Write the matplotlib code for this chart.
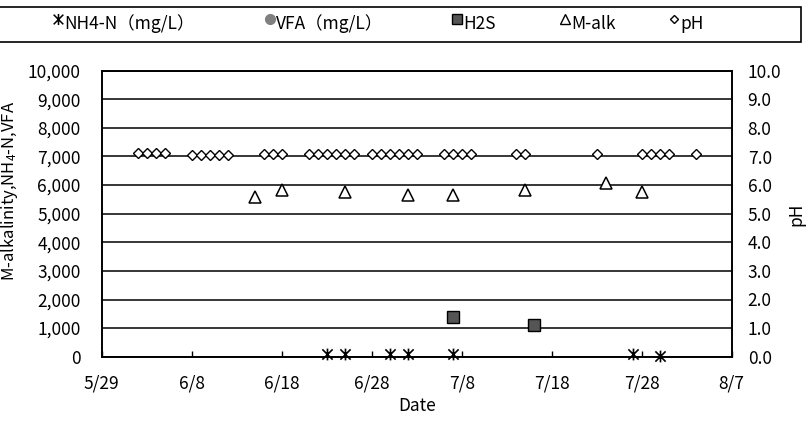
import datetime as dt
import matplotlib
matplotlib.use("Agg")
import matplotlib.pyplot as plt
import matplotlib.dates as mdates
from matplotlib.path import Path
from matplotlib.lines import Line2D
from matplotlib.patches import Rectangle
from matplotlib.ticker import FuncFormatter, MultipleLocator

plt.rcParams['font.family'] = ['Noto Sans CJK JP', 'DejaVu Sans']
plt.rcParams['mathtext.default'] = 'regular'

YEAR = 2012
def D(m, d):
    return dt.datetime(YEAR, m, d)

# ---- data ----
ph_dates = [D(6,2), D(6,3), D(6,4), D(6,5),
            D(6,8), D(6,9), D(6,10), D(6,11), D(6,12),
            D(6,16), D(6,17), D(6,18),
            D(6,21), D(6,22), D(6,23), D(6,24), D(6,25), D(6,26),
            D(6,28), D(6,29), D(6,30), D(7,1), D(7,2), D(7,3),
            D(7,6), D(7,7), D(7,8), D(7,9),
            D(7,14), D(7,15),
            D(7,23),
            D(7,28), D(7,29), D(7,30), D(7,31),
            D(8,3)]
ph_values = [7.12, 7.12, 7.12, 7.12,
             7.05, 7.05, 7.05, 7.05, 7.05,
             7.1, 7.1, 7.1,
             7.1, 7.1, 7.1, 7.1, 7.1, 7.1,
             7.1, 7.1, 7.1, 7.1, 7.1, 7.1,
             7.1, 7.1, 7.1, 7.1,
             7.1, 7.1,
             7.1,
             7.1, 7.1, 7.1, 7.1,
             7.1]

malk_dates = [D(6,15), D(6,18), D(6,25), D(7,2), D(7,7), D(7,15), D(7,24), D(7,28)]
malk_values = [5600, 5840, 5750, 5640, 5640, 5840, 6090, 5760]

nh4_dates = [D(6,23), D(6,25), D(6,30), D(7,2), D(7,7), D(7,27), D(7,30)]
nh4_values = [100, 100, 100, 100, 100, 100, 30]

h2s_dates = [D(7,7), D(7,16)]
h2s_values = [1400, 1100]

vfa_dates = []
vfa_values = []

legend_labels = ['NH4-N（mg/L）', 'VFA（mg/L）', 'H2S', 'M-alk', 'pH']
left_ylabel = 'M-alkalinity,NH$_4$-N,VFA'
right_ylabel = 'pH'
xlabel = 'Date'

# ---- styles ----
asterisk = Path([(-1, -1), (1, 1), (-1, 1), (1, -1), (0, -1.15), (0, 1.15)],
                [Path.MOVETO, Path.LINETO, Path.MOVETO, Path.LINETO, Path.MOVETO, Path.LINETO])

FS = 12.5
W, H = 808, 424
fig = plt.figure(figsize=(W/100, H/100), dpi=100)
ax = fig.add_axes([101.7/W, 1-356.7/H, 630/W, 286/H])
ax2 = ax.twinx()

ax.set_xlim(D(5,29), D(8,7))
ax.set_ylim(0, 10000)
ax2.set_ylim(0, 10)

ax.yaxis.set_major_locator(MultipleLocator(1000))
ax.yaxis.set_major_formatter(FuncFormatter(lambda v, p: f"{int(v):,}"))
ax2.yaxis.set_major_locator(MultipleLocator(1))
ax2.yaxis.set_major_formatter(FuncFormatter(lambda v, p: f"{v:.1f}"))
ticks = [mdates.date2num(D(5,29)) + 10*i for i in range(8)]
ax.set_xticks(ticks)
ax.xaxis.set_major_formatter(FuncFormatter(lambda v, p: f"{mdates.num2date(v).month}/{mdates.num2date(v).day}"))

ax.grid(axis='y', color='black', linewidth=1.1)
ax.set_axisbelow(True)
for s in ax.spines.values():
    s.set_color('black'); s.set_linewidth(1.2)
for s in ax2.spines.values():
    s.set_color('black'); s.set_linewidth(1.2)

ax.tick_params(axis='x', direction='in', length=4, width=1, pad=13, labelsize=FS)
ax.tick_params(axis='y', length=0, pad=15, labelsize=FS)
ax2.tick_params(axis='y', length=0, pad=11.5, labelsize=FS)

ax.plot(nh4_dates, nh4_values, linestyle='none', marker=asterisk, markersize=8.5,
        markerfacecolor='none', markeredgecolor='black', markeredgewidth=1.2, clip_on=False, zorder=5)
ax.plot(vfa_dates, vfa_values, linestyle='none', marker='o', markersize=7, color='#808080')
ax.plot(h2s_dates, h2s_values, linestyle='none', marker='s', markersize=9,
        markerfacecolor='#555555', markeredgecolor='black', markeredgewidth=1.0, zorder=5)
ax.plot(malk_dates, malk_values, linestyle='none', marker='^', markersize=8.5,
        markerfacecolor='white', markeredgecolor='black', markeredgewidth=1.1, zorder=5)
ax2.plot(ph_dates, ph_values, linestyle='none', marker='D', markersize=5.2,
         markerfacecolor='white', markeredgecolor='black', markeredgewidth=1.0, zorder=5)

ax.set_xlabel(xlabel, fontsize=FS, labelpad=3)
fig.text(10/W, 1-191/H, left_ylabel, rotation=90, ha='center', va='center', fontsize=12)
fig.text(796/W, 1-214/H, right_ylabel, rotation=90, ha='center', va='center', fontsize=FS)

# ---- legend (manual, figure coordinates) ----
fig.patches.append(Rectangle((-2/W, 1-42/H), 803/W, 35/H, transform=fig.transFigure,
                             fill=False, edgecolor='black', linewidth=1.2))
leg_items = [
    (58, dict(marker=asterisk, markersize=8, markerfacecolor='none', markeredgecolor='black', markeredgewidth=1.1)),
    (270, dict(marker='o', markersize=7, markerfacecolor='#808080', markeredgecolor='#808080')),
    (457, dict(marker='s', markersize=7.5, markerfacecolor='#555555', markeredgecolor='black')),
    (565, dict(marker='^', markersize=7.5, markerfacecolor='white', markeredgecolor='black', markeredgewidth=1.0)),
    (674, dict(marker='D', markersize=4.5, markerfacecolor='white', markeredgecolor='black', markeredgewidth=1.0)),
]
for (mx, st), lab in zip(leg_items, legend_labels):
    fig.add_artist(Line2D([mx/W], [1-19/H], transform=fig.transFigure, linestyle='none', **st))
    fig.text((mx+6)/W, 1-24/H, lab, ha='left', va='center', fontsize=FS)

fig.savefig('out.png', dpi=100)
